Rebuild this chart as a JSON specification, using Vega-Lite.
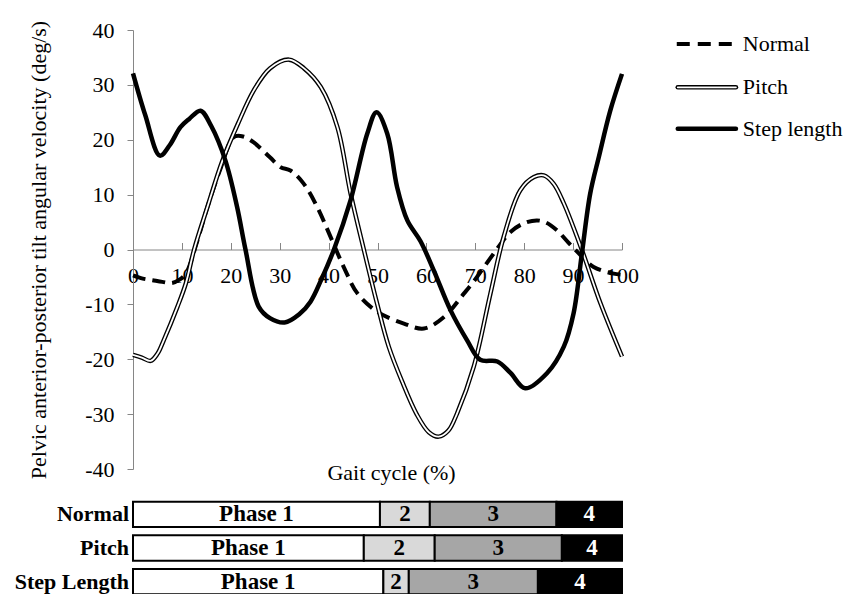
{
  "$schema": "https://vega.github.io/schema/vega-lite/v6.json",
  "padding": {"left": 14, "top": 19, "right": 0, "bottom": 0},
  "background": "white",
  "config": {"view": {"stroke": null}, "font": "Liberation Serif", "axis": {"grid": false}},
  "spacing": 16,
  "datasets": {
    "curves": [
      {"series": "Normal", "x": 0, "y": -4.7}, {"series": "Normal", "x": 2, "y": -5.3}, {"series": "Normal", "x": 4, "y": -5.6},
      {"series": "Normal", "x": 6, "y": -5.9}, {"series": "Normal", "x": 8, "y": -6.1}, {"series": "Normal", "x": 9.5, "y": -5.5},
      {"series": "Normal", "x": 10.8, "y": -4.4}, {"series": "Normal", "x": 13.2, "y": 1.7}, {"series": "Normal", "x": 15.2, "y": 7.7},
      {"series": "Normal", "x": 18, "y": 15}, {"series": "Normal", "x": 20.6, "y": 20.5}, {"series": "Normal", "x": 22.5, "y": 20.6},
      {"series": "Normal", "x": 24.7, "y": 19.5}, {"series": "Normal", "x": 28, "y": 16.8}, {"series": "Normal", "x": 30.2, "y": 15},
      {"series": "Normal", "x": 32.2, "y": 14.4}, {"series": "Normal", "x": 34.9, "y": 12}, {"series": "Normal", "x": 37.7, "y": 7.7},
      {"series": "Normal", "x": 40.4, "y": 2.3}, {"series": "Normal", "x": 43.1, "y": -3.2}, {"series": "Normal", "x": 45.9, "y": -8},
      {"series": "Normal", "x": 49.9, "y": -11.3}, {"series": "Normal", "x": 55.4, "y": -13.5}, {"series": "Normal", "x": 59.5, "y": -14.4},
      {"series": "Normal", "x": 63.6, "y": -12.3}, {"series": "Normal", "x": 67.7, "y": -8}, {"series": "Normal", "x": 69.7, "y": -5.8},
      {"series": "Normal", "x": 73.8, "y": -0.7}, {"series": "Normal", "x": 77.2, "y": 3.2}, {"series": "Normal", "x": 80, "y": 4.8},
      {"series": "Normal", "x": 82.6, "y": 5.3}, {"series": "Normal", "x": 84.5, "y": 4.9}, {"series": "Normal", "x": 86.7, "y": 3.5},
      {"series": "Normal", "x": 89, "y": 1.3}, {"series": "Normal", "x": 91.5, "y": -1}, {"series": "Normal", "x": 94.2, "y": -3.2},
      {"series": "Normal", "x": 98.3, "y": -4.4}, {"series": "Normal", "x": 100, "y": -4.6},

      {"series": "Pitch", "x": 0, "y": -19.2}, {"series": "Pitch", "x": 1.8, "y": -19.7}, {"series": "Pitch", "x": 3.6, "y": -20.3},
      {"series": "Pitch", "x": 5, "y": -19}, {"series": "Pitch", "x": 6.3, "y": -16.5}, {"series": "Pitch", "x": 9.1, "y": -10.4},
      {"series": "Pitch", "x": 10.8, "y": -6.2}, {"series": "Pitch", "x": 12.5, "y": 0}, {"series": "Pitch", "x": 15.2, "y": 7.7},
      {"series": "Pitch", "x": 18.3, "y": 16.2}, {"series": "Pitch", "x": 21.5, "y": 23}, {"series": "Pitch", "x": 24.7, "y": 29},
      {"series": "Pitch", "x": 28, "y": 33}, {"series": "Pitch", "x": 31.9, "y": 34.6}, {"series": "Pitch", "x": 35, "y": 33},
      {"series": "Pitch", "x": 38.4, "y": 29.6}, {"series": "Pitch", "x": 41.8, "y": 22.3}, {"series": "Pitch", "x": 44.5, "y": 10.2},
      {"series": "Pitch", "x": 47.2, "y": 0}, {"series": "Pitch", "x": 49.9, "y": -9.8}, {"series": "Pitch", "x": 52.3, "y": -17.7},
      {"series": "Pitch", "x": 55, "y": -24}, {"series": "Pitch", "x": 58, "y": -30}, {"series": "Pitch", "x": 60.5, "y": -33.3},
      {"series": "Pitch", "x": 62.5, "y": -34.1}, {"series": "Pitch", "x": 64.5, "y": -33}, {"series": "Pitch", "x": 66.3, "y": -29.8},
      {"series": "Pitch", "x": 69.7, "y": -21.3}, {"series": "Pitch", "x": 73.1, "y": -8}, {"series": "Pitch", "x": 75.8, "y": 2.3},
      {"series": "Pitch", "x": 79.2, "y": 10.8}, {"series": "Pitch", "x": 82, "y": 13.2}, {"series": "Pitch", "x": 84, "y": 13.5},
      {"series": "Pitch", "x": 86, "y": 12}, {"series": "Pitch", "x": 88.1, "y": 8.4}, {"series": "Pitch", "x": 91.8, "y": -0.1},
      {"series": "Pitch", "x": 95.6, "y": -9.8}, {"series": "Pitch", "x": 100, "y": -19.5},

      {"series": "Step length", "x": 0, "y": 32.1}, {"series": "Step length", "x": 2.5, "y": 24.5}, {"series": "Step length", "x": 5.5, "y": 17.1},
      {"series": "Step length", "x": 7.5, "y": 19}, {"series": "Step length", "x": 9.7, "y": 22.3}, {"series": "Step length", "x": 11.5, "y": 23.8},
      {"series": "Step length", "x": 13.8, "y": 25.3}, {"series": "Step length", "x": 16, "y": 22.5}, {"series": "Step length", "x": 18.9, "y": 16.2},
      {"series": "Step length", "x": 21.3, "y": 7.7}, {"series": "Step length", "x": 23, "y": 0}, {"series": "Step length", "x": 25.7, "y": -10.4},
      {"series": "Step length", "x": 28, "y": -12.5}, {"series": "Step length", "x": 31, "y": -13.3}, {"series": "Step length", "x": 34, "y": -11.8},
      {"series": "Step length", "x": 36.3, "y": -9.5}, {"series": "Step length", "x": 38.5, "y": -5.5}, {"series": "Step length", "x": 41.1, "y": 0},
      {"series": "Step length", "x": 44.5, "y": 9}, {"series": "Step length", "x": 47.9, "y": 21.1}, {"series": "Step length", "x": 49.8, "y": 25},
      {"series": "Step length", "x": 52, "y": 21.1}, {"series": "Step length", "x": 54, "y": 11.4}, {"series": "Step length", "x": 56.1, "y": 5.3},
      {"series": "Step length", "x": 58.8, "y": 1.5}, {"series": "Step length", "x": 61.5, "y": -3.8}, {"series": "Step length", "x": 64.9, "y": -11},
      {"series": "Step length", "x": 68.3, "y": -16.5}, {"series": "Step length", "x": 71, "y": -20.1}, {"series": "Step length", "x": 74.5, "y": -20.4},
      {"series": "Step length", "x": 77.2, "y": -22.5}, {"series": "Step length", "x": 80.2, "y": -25.3}, {"series": "Step length", "x": 84.7, "y": -22.5},
      {"series": "Step length", "x": 88.1, "y": -17.7}, {"series": "Step length", "x": 90.1, "y": -11.6}, {"series": "Step length", "x": 91.8, "y": -0.7},
      {"series": "Step length", "x": 93.5, "y": 10.2}, {"series": "Step length", "x": 95.3, "y": 17}, {"series": "Step length", "x": 97.6, "y": 25.3},
      {"series": "Step length", "x": 100, "y": 32}
    ],
    "phases": [
      {"condition": "Normal", "phase": "Phase 1", "start": 0, "end": 50.5},
      {"condition": "Normal", "phase": "2", "start": 50.5, "end": 60.7},
      {"condition": "Normal", "phase": "3", "start": 60.7, "end": 86.6},
      {"condition": "Normal", "phase": "4", "start": 86.6, "end": 100},
      {"condition": "Pitch", "phase": "Phase 1", "start": 0, "end": 47.2},
      {"condition": "Pitch", "phase": "2", "start": 47.2, "end": 61.7},
      {"condition": "Pitch", "phase": "3", "start": 61.7, "end": 87.7},
      {"condition": "Pitch", "phase": "4", "start": 87.7, "end": 100},
      {"condition": "Step Length", "phase": "Phase 1", "start": 0, "end": 51.2},
      {"condition": "Step Length", "phase": "2", "start": 51.2, "end": 56.4},
      {"condition": "Step Length", "phase": "3", "start": 56.4, "end": 82.8},
      {"condition": "Step Length", "phase": "4", "start": 82.8, "end": 100}
    ]
  },
  "vconcat": [
    {
      "width": 489,
      "height": 439,
      "layer": [
        {
          "data": {"name": "curves"},
          "transform": [{"filter": "datum.series === 'Normal'"}],
          "mark": {"type": "line", "color": "black", "strokeWidth": 4, "strokeDash": [13, 7], "interpolate": "catmull-rom"},
          "encoding": {
            "x": {
              "field": "x", "type": "quantitative",
              "scale": {"domain": [0, 100], "nice": false, "zero": false},
              "axis": {
                "values": [0, 10, 20, 30, 40, 50, 60, 70, 80, 90, 100],
                "offset": -219.5,
                "domainColor": "#868686", "tickColor": "#868686", "tickSize": -7,
                "labelPadding": 23, "labelFontSize": 22, "labelColor": "black",
                "labelFlush": false, "labelOverlap": false,
                "title": "Gait cycle (%)", "titleFontSize": 22, "titleFontWeight": "normal", "titleColor": "black",
                "titleX": 258, "titleY": 223, "titleBaseline": "middle", "titleAlign": "center"
              }
            },
            "y": {
              "field": "y", "type": "quantitative",
              "scale": {"domain": [-40, 40], "nice": false, "zero": false},
              "axis": {
                "values": [-40, -30, -20, -10, 0, 10, 20, 30, 40],
                "labelExpr": "'' + datum.value",
                "domainColor": "#868686", "tickColor": "#868686", "tickSize": 6,
                "labelPadding": 13, "labelFontSize": 22, "labelColor": "black",
                "title": "Pelvic anterior-posterior tilt angular velocity (deg/s)",
                "titleFontSize": 22, "titleFontWeight": "normal", "titleColor": "black", "titlePadding": 34
              }
            }
          }
        },
        {
          "data": {"name": "curves"},
          "transform": [{"filter": "datum.series === 'Pitch'"}],
          "mark": {"type": "line", "color": "black", "strokeWidth": 4.5, "interpolate": "catmull-rom"},
          "encoding": {"x": {"field": "x", "type": "quantitative"}, "y": {"field": "y", "type": "quantitative"}}
        },
        {
          "data": {"name": "curves"},
          "transform": [{"filter": "datum.series === 'Pitch'"}],
          "mark": {"type": "line", "color": "white", "strokeWidth": 1.8, "interpolate": "catmull-rom"},
          "encoding": {"x": {"field": "x", "type": "quantitative"}, "y": {"field": "y", "type": "quantitative"}}
        },
        {
          "data": {"name": "curves"},
          "transform": [{"filter": "datum.series === 'Step length'"}],
          "mark": {"type": "line", "color": "black", "strokeWidth": 4.5, "interpolate": "catmull-rom"},
          "encoding": {"x": {"field": "x", "type": "quantitative"}, "y": {"field": "y", "type": "quantitative"}}
        },
        {
          "data": {"values": [{}]},
          "mark": {"type": "rule", "color": "black", "strokeWidth": 4, "strokeDash": [13, 8]},
          "encoding": {"x": {"datum": 111.2}, "x2": {"datum": 122.5}, "y": {"datum": 37.45}}
        },
        {
          "data": {"values": [{}]},
          "mark": {"type": "rule", "color": "black", "strokeWidth": 4.5, "strokeCap": "round"},
          "encoding": {"x": {"datum": 111.4}, "x2": {"datum": 123.3}, "y": {"datum": 29.56}}
        },
        {
          "data": {"values": [{}]},
          "mark": {"type": "rule", "color": "white", "strokeWidth": 1.8, "strokeCap": "round"},
          "encoding": {"x": {"datum": 111.4}, "x2": {"datum": 123.3}, "y": {"datum": 29.56}}
        },
        {
          "data": {"values": [{}]},
          "mark": {"type": "rule", "color": "black", "strokeWidth": 4.5, "strokeCap": "round"},
          "encoding": {"x": {"datum": 111.4}, "x2": {"datum": 123.3}, "y": {"datum": 22.0}}
        },
        {
          "data": {"values": [{"label": "Normal", "lx": 124.7, "ly": 37.45}, {"label": "Pitch", "lx": 124.7, "ly": 29.56}, {"label": "Step length", "lx": 124.7, "ly": 22.0}]},
          "mark": {"type": "text", "align": "left", "baseline": "middle", "fontSize": 22, "color": "black"},
          "encoding": {"x": {"field": "lx", "type": "quantitative"}, "y": {"field": "ly", "type": "quantitative"}, "text": {"field": "label"}}
        }
      ]
    },
    {
      "width": 489,
      "height": 94,
      "data": {"name": "phases"},
      "layer": [
        {
          "mark": {"type": "bar", "stroke": "black", "strokeWidth": 2},
          "encoding": {
            "y": {
              "field": "condition", "type": "nominal", "sort": ["Normal", "Pitch", "Step Length"],
              "scale": {"paddingInner": 0.25, "paddingOuter": 0.02},
              "axis": {"title": null, "ticks": false, "domain": false, "labelFontSize": 22, "labelFontWeight": "bold", "labelColor": "black", "labelPadding": 4.5}
            },
            "x": {"field": "start", "type": "quantitative", "scale": {"domain": [0, 100], "nice": false}, "axis": null},
            "x2": {"field": "end"},
            "fill": {
              "field": "phase", "type": "nominal",
              "scale": {"domain": ["Phase 1", "2", "3", "4"], "range": ["#ffffff", "#d9d9d9", "#a6a6a6", "#000000"]},
              "legend": null
            }
          }
        },
        {
          "transform": [{"calculate": "(datum.start + datum.end) / 2", "as": "mid"}],
          "mark": {"type": "text", "fontWeight": "bold", "fontSize": 23, "baseline": "middle", "align": "center"},
          "encoding": {
            "y": {"field": "condition", "type": "nominal", "sort": ["Normal", "Pitch", "Step Length"]},
            "x": {"field": "mid", "type": "quantitative"},
            "text": {"field": "phase"},
            "color": {"condition": {"test": "datum.phase === '4'", "value": "white"}, "value": "black"}
          }
        }
      ]
    }
  ]
}
